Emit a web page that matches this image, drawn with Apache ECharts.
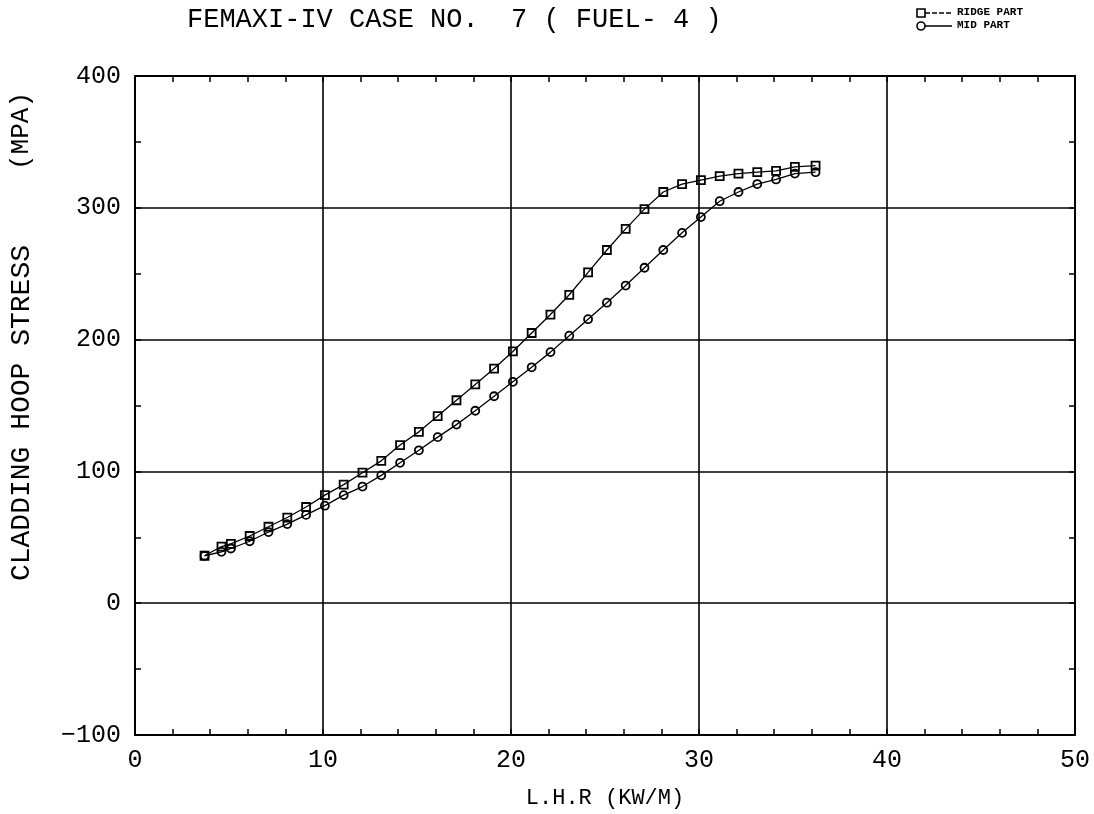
<!DOCTYPE html>
<html>
<head>
<meta charset="utf-8">
<script src="https://cdn.jsdelivr.net/npm/echarts@6/dist/echarts.min.js"></script>
<style>
html,body{margin:0;padding:0;background:#fff;}
#c{width:1094px;height:814px;}
</style>
</head>
<body>
<div id="c"></div>
<script>
// L.H.R (kW/m) values shared by both curves
var lhr = [3.7, 4.6, 5.1, 6.1, 7.1, 8.1, 9.1, 10.1, 11.1, 12.1, 13.1, 14.1, 15.1, 16.1, 17.1, 18.1, 19.1, 20.1,
           21.1, 22.1, 23.1, 24.1, 25.1, 26.1, 27.1, 28.1, 29.1, 30.1, 31.1, 32.1, 33.1, 34.1, 35.1, 36.2];
// Cladding hoop stress (MPa), ridge part (squares)
var ridgeStress = [36, 43, 45, 51, 58, 65, 73, 82, 90, 99, 108, 120, 130, 142, 154, 166, 178, 191,
                   205, 219, 234, 251, 268, 284, 299, 312, 318, 321, 324, 326, 327, 328, 331, 332];
// Cladding hoop stress (MPa), mid part (circles)
var midStress = [36, 39, 41.5, 47, 54, 60, 67, 74, 82, 88.5, 97, 106.5, 116, 126, 135.5, 146, 157, 168,
                 179, 190.5, 203, 215.5, 228, 241, 254.5, 268, 281, 293, 305, 312, 318, 321.5, 326, 327];
var seriesNames = ['RIDGE PART', 'MID PART'];
var titleText = 'FEMAXI-IV CASE NO.  7 ( FUEL- 4 )';
var xAxisName = 'L.H.R (KW/M)';
var yAxisName = 'CLADDING HOOP STRESS';
var yAxisUnit = '(MPA)';
var xTicks = {min: 0, max: 50, interval: 10};
var yTicks = {min: -100, max: 400, interval: 100};

function pairs(xs, ys) { return xs.map(function (x, i) { return [x, ys[i]]; }); }

var FONT = '"Liberation Mono", "DejaVu Sans Mono", monospace';
var chart = echarts.init(document.getElementById('c'));

function xAx(pos, main) {
  return {
    type: 'value', position: pos, min: xTicks.min, max: xTicks.max, interval: xTicks.interval,
    axisLine: {show: true, onZero: false, lineStyle: {color: '#000', width: 2}},
    axisTick: {show: true, inside: true, length: 6, lineStyle: {color: '#000', width: 1.5}},
    minorTick: {show: true, splitNumber: 5, length: 6, lineStyle: {color: '#000', width: 1.5}},
    splitLine: {show: main, lineStyle: {color: '#000', width: 1.6}},
    axisLabel: {show: main, color: '#000', fontFamily: FONT, fontSize: 25, margin: 13},
    name: main ? xAxisName : '', nameLocation: 'middle', nameGap: 52,
    nameTextStyle: {color: '#000', fontFamily: FONT, fontSize: 22}
  };
}
function yAx(pos, main) {
  return {
    type: 'value', position: pos, min: yTicks.min, max: yTicks.max, interval: yTicks.interval,
    axisLine: {show: true, onZero: false, lineStyle: {color: '#000', width: 2}},
    axisTick: {show: true, inside: true, length: 6, lineStyle: {color: '#000', width: 1.5}},
    minorTick: {show: true, splitNumber: 2, length: 6, lineStyle: {color: '#000', width: 1.5}},
    splitLine: {show: main, lineStyle: {color: '#000', width: 1.6}},
    axisLabel: {show: main, color: '#000', fontFamily: FONT, fontSize: 25, margin: 14,
      formatter: function (v) { return v < 0 ? '\u2212' + Math.abs(v) : String(v); }}
  };
}

function mkSeries(name, data, sym) {
  return {
    name: name, type: 'line', data: data, xAxisIndex: 0, yAxisIndex: 0,
    symbol: sym, symbolSize: 8, showSymbol: true, animation: false,
    lineStyle: {color: '#000', width: 1.3},
    itemStyle: {color: 'rgba(255,255,255,0)', borderColor: '#000', borderWidth: 1.8}
  };
}

chart.setOption({
  backgroundColor: '#fff',
  animation: false,
  title: {text: titleText, left: 182, top: 1,
    textStyle: {color: '#000', fontFamily: FONT, fontSize: 27, fontWeight: 'normal'}},
  grid: {left: 135, right: 19, top: 76, bottom: 77, containLabel: false},
  xAxis: [xAx('bottom', true), xAx('top', false)],
  yAxis: [yAx('left', true), yAx('right', false)],
  series: [
    mkSeries(seriesNames[0], pairs(lhr, ridgeStress), 'rect'),
    mkSeries(seriesNames[1], pairs(lhr, midStress), 'circle')
  ],
  graphic: [
    {type: 'text', left: 8, top: 245, rotation: Math.PI / 2,
      style: {text: yAxisName, fill: '#000', font: '28px ' + FONT}},
    {type: 'text', left: 8, top: 92, rotation: Math.PI / 2,
      style: {text: yAxisUnit, fill: '#000', font: '26px ' + FONT}},
    // legend
    {type: 'rect', shape: {x: 917, y: 9, width: 8, height: 8}, style: {fill: 'none', stroke: '#000', lineWidth: 1.6}},
    {type: 'line', shape: {x1: 925, y1: 13, x2: 952, y2: 13}, style: {stroke: '#000', lineWidth: 1.5, lineDash: [5, 2]}},
    {type: 'text', x: 957, y: 7, style: {text: seriesNames[0], fill: '#000', font: 'bold 11px ' + FONT}},
    {type: 'circle', shape: {cx: 921, cy: 26, r: 4}, style: {fill: 'none', stroke: '#000', lineWidth: 1.6}},
    {type: 'line', shape: {x1: 925, y1: 26, x2: 952, y2: 26}, style: {stroke: '#000', lineWidth: 1.5}},
    {type: 'text', x: 957, y: 20, style: {text: seriesNames[1], fill: '#000', font: 'bold 11px ' + FONT}}
  ]
});
</script>
</body>
</html>
